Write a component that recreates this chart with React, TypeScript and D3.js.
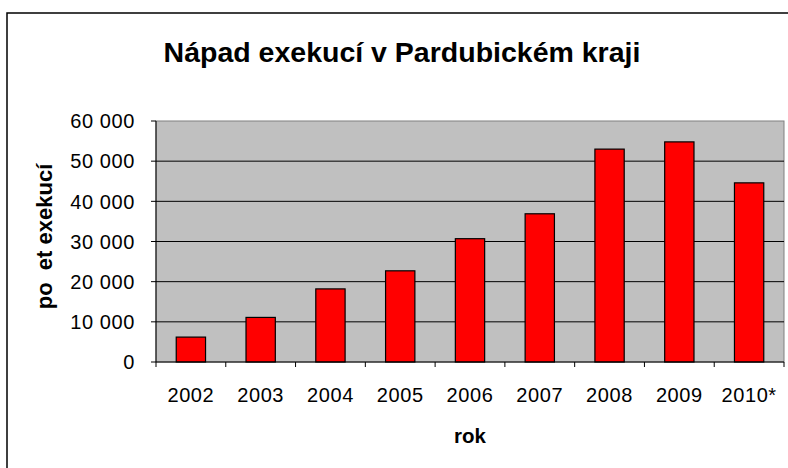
import React from "react";
import * as d3 from "d3";

const years = ["2002", "2003", "2004", "2005", "2006", "2007", "2008", "2009", "2010*"];
const counts = [6200, 11100, 18200, 22700, 30700, 36900, 53000, 54800, 44600];
const yTicks = [0, 10000, 20000, 30000, 40000, 50000, 60000];

const W = 788;
const H = 468;
const plot = { left: 156, right: 784, top: 121, bottom: 362 };
const FONT = "'Liberation Sans', Arial, sans-serif";

const fmt = (v: number) => d3.format(",")(v).replace(/,/g, " ");

export default function App() {
  const x = d3
    .scaleBand<string>()
    .domain(years)
    .range([plot.left, plot.right])
    .paddingInner(0.58)
    .paddingOuter(0.29);
  const y = d3.scaleLinear().domain([0, 60000]).range([plot.bottom, plot.top]);
  const step = x.step();
  const boundaries = d3.range(years.length + 1).map((i) => plot.left + i * step);

  return (
    <svg
      width={W}
      height={H}
      style={{ position: "absolute", left: 0, top: 0, background: "#fff" }}
      fontFamily={FONT}
    >
      <rect x={0} y={0} width={W} height={H} fill="#fff" />
      {/* chart frame */}
      <rect x={7} y={13} width={800} height={480} fill="none" stroke="#000" strokeWidth={1.5} />
      {/* title */}
      <text x={402} y={62} textAnchor="middle" fontSize={28.5} fontWeight="bold" fill="#000">
        Nápad exekucí v Pardubickém kraji
      </text>
      {/* plot area */}
      <rect
        x={plot.left}
        y={plot.top}
        width={plot.right - plot.left}
        height={plot.bottom - plot.top}
        fill="#C0C0C0"
        stroke="#808080"
        strokeWidth={1}
      />
      {/* gridlines */}
      {yTicks
        .filter((t) => t > 0 && t < 60000)
        .map((t) => (
          <line key={t} x1={plot.left} x2={plot.right} y1={y(t)} y2={y(t)} stroke="#000" strokeWidth={1} />
        ))}
      {/* bars */}
      {years.map((yr, i) => (
        <rect
          key={yr}
          x={x(yr)}
          y={y(counts[i])}
          width={x.bandwidth()}
          height={y(0) - y(counts[i])}
          fill="#FF0000"
          stroke="#000"
          strokeWidth={1.2}
        />
      ))}
      {/* y axis */}
      <line x1={plot.left} x2={plot.left} y1={plot.top} y2={plot.bottom} stroke="#000" strokeWidth={1} />
      {yTicks.map((t) => (
        <g key={t}>
          <line x1={plot.left - 5} x2={plot.left} y1={y(t)} y2={y(t)} stroke="#000" strokeWidth={1} />
          <text
            x={135}
            y={y(t)}
            dy="0.36em"
            textAnchor="end"
            fontSize={20}
            letterSpacing={0.6}
            fill="#000"
          >
            {fmt(t)}
          </text>
        </g>
      ))}
      {/* x axis */}
      <line x1={plot.left} x2={plot.right} y1={plot.bottom} y2={plot.bottom} stroke="#000" strokeWidth={1} />
      {boundaries.map((b, i) => (
        <line key={i} x1={b} x2={b} y1={plot.bottom} y2={plot.bottom + 5} stroke="#000" strokeWidth={1} />
      ))}
      {years.map((yr) => (
        <text
          key={yr}
          x={(x(yr) as number) + x.bandwidth() / 2}
          y={401.5}
          textAnchor="middle"
          fontSize={20}
          letterSpacing={0.6}
          fill="#000"
        >
          {yr}
        </text>
      ))}
      {/* axis titles */}
      <text x={470} y={443} textAnchor="middle" fontSize={20.5} fontWeight="bold" fill="#000">
        rok
      </text>
      <text
        transform={`translate(52, ${(plot.top + plot.bottom) / 2 - 5}) rotate(-90)`}
        textAnchor="middle"
        fontSize={22}
        fontWeight="bold"
        fill="#000"
        style={{ whiteSpace: "pre" }}
      >
        {"po  et exekucí"}
      </text>
    </svg>
  );
}
